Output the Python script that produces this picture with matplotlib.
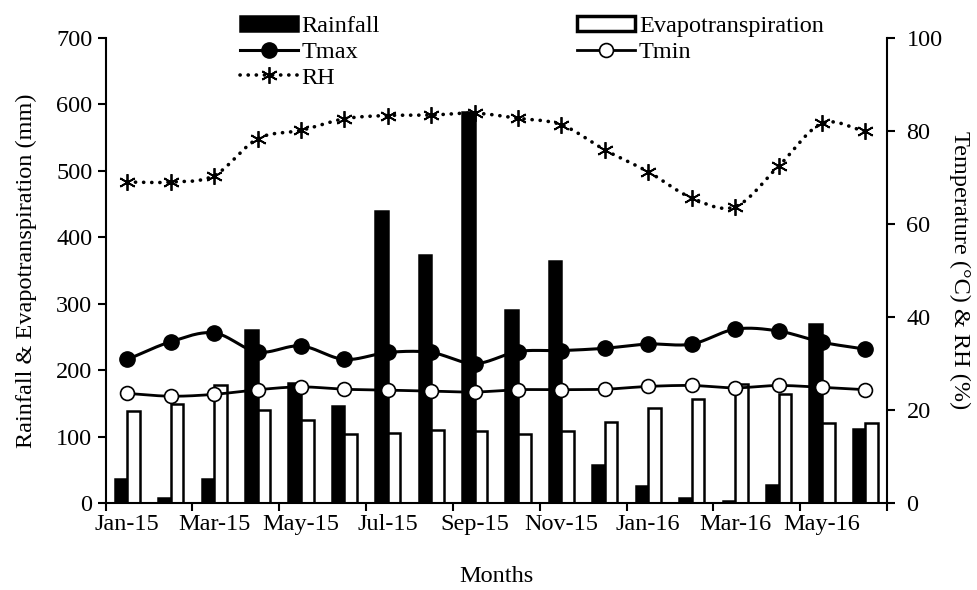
import numpy as np
import matplotlib.pyplot as plt
from matplotlib.lines import Line2D

plt.rcParams['font.family'] = ['Liberation Serif', 'DejaVu Serif']
plt.rcParams['font.size'] = 17.5

months = ['Jan-15', 'Feb-15', 'Mar-15', 'Apr-15', 'May-15', 'Jun-15',
          'Jul-15', 'Aug-15', 'Sep-15', 'Oct-15', 'Nov-15', 'Dec-15',
          'Jan-16', 'Feb-16', 'Mar-16', 'Apr-16', 'May-16', 'Jun-16']
rainfall = [36, 8, 37, 260, 181, 147, 439, 373, 589, 290, 364, 58,
            26, 8, 4, 27, 269, 111]
evapotranspiration = [138, 149, 178, 140, 125, 104, 106, 110, 109, 104, 108, 122,
                      144, 157, 179, 164, 120, 121]
tmax = [30.9, 34.7, 36.6, 32.5, 33.8, 30.9, 32.4, 32.4, 30.0, 32.6, 32.8, 33.3,
        34.2, 34.2, 37.4, 37.0, 34.6, 33.1]
tmin = [23.6, 23.0, 23.4, 24.4, 25.0, 24.5, 24.3, 24.1, 23.9, 24.4, 24.4, 24.5,
        25.1, 25.3, 24.8, 25.3, 24.9, 24.4]
rh = [69.0, 69.0, 70.4, 78.3, 80.1, 82.6, 83.3, 83.4, 83.8, 82.7, 81.3, 75.9,
      71.2, 65.6, 63.7, 72.4, 81.6, 79.9]


def smooth(x, y, n=24):
    # catmull-rom curve through the points (like a spreadsheet "smoothed line")
    x = np.asarray(x, float)
    y = np.asarray(y, float)
    px = np.concatenate([[2 * x[0] - x[1]], x, [2 * x[-1] - x[-2]]])
    py = np.concatenate([[2 * y[0] - y[1]], y, [2 * y[-1] - y[-2]]])
    t = np.linspace(0, 1, n, endpoint=False)
    xs, ys = [], []
    for i in range(1, len(px) - 2):
        for p, out in ((px, xs), (py, ys)):
            p0, p1, p2, p3 = p[i - 1], p[i], p[i + 1], p[i + 2]
            out.extend(0.5 * (2 * p1 + (-p0 + p2) * t
                              + (2 * p0 - 5 * p1 + 4 * p2 - p3) * t ** 2
                              + (-p0 + 3 * p1 - 3 * p2 + p3) * t ** 3))
    xs.append(x[-1])
    ys.append(y[-1])
    return np.array(xs), np.array(ys)


x = np.arange(len(months))
w = 0.29

fig = plt.figure(figsize=(9.78, 5.9), dpi=100)
ax = fig.add_axes([0.108, 0.147, 0.799, 0.789])
ax2 = ax.twinx()

ax.bar(x - w / 2, rainfall, w, color='black', edgecolor='black', linewidth=1.8,
       label='Rainfall')
ax.bar(x + w / 2, evapotranspiration, w, color='white', edgecolor='black',
       linewidth=1.8, label='Evapotranspiration')

sx, sy = smooth(x, tmax)
ax2.plot(sx, sy, color='black', lw=2.2)
ax2.plot(x, tmax, 'o', color='black', ms=11)

sx, sy = smooth(x, tmin)
ax2.plot(sx, sy, color='black', lw=2.0)
ax2.plot(x, tmin, 'o', mfc='white', mec='black', mew=1.2, ms=10)

sx, sy = smooth(x, rh)
ax2.plot(sx, sy, color='black', lw=2.6, ls=(0, (0.05, 2.2)),
         dash_capstyle='round')
ax2.plot(x, rh, ls='none', marker=(6, 2, 0), color='black', ms=12, mew=1.3)

ax.set_xlim(-0.5, len(months) - 0.5)
ax.set_ylim(0, 700)
ax.set_yticks(range(0, 701, 100))
ax2.set_ylim(0, 100)
ax2.set_yticks(range(0, 101, 20))

ax.set_xticks(np.arange(-0.5, len(months), 2))
ax.set_xticklabels([])
ax.set_xticks(x[::2], minor=True)
ax.set_xticklabels(months[::2], minor=True)
ax.tick_params(axis='x', which='minor', length=0, pad=8)
ax.tick_params(axis='x', which='major', length=6, width=1.5, direction='out')
ax.tick_params(axis='y', length=6, width=1.5, direction='out')
ax2.tick_params(axis='y', length=6, width=1.5, direction='out', pad=8)

for a in (ax, ax2):
    a.spines['top'].set_visible(False)
    for s in ('left', 'right', 'bottom'):
        a.spines[s].set_linewidth(1.5)
ax.spines['right'].set_visible(False)
ax2.spines['left'].set_visible(False)
ax2.spines['bottom'].set_visible(False)

ax.set_xlabel('Months', labelpad=22)
ax.set_ylabel('Rainfall & Evapotranspiration (mm)', labelpad=14)
ax2.set_ylabel('Temperature (°C) & RH (%)', rotation=270, labelpad=20)

h_rain = plt.Rectangle((0, 0), 1, 1, fc='black', ec='black', lw=1.8)
h_et = plt.Rectangle((0, 0), 1, 1, fc='white', ec='black', lw=2.5)
h_tmax = Line2D([], [], color='black', lw=2.2, marker='o', ms=11)
h_tmin = Line2D([], [], color='black', lw=2.0, marker='o', mfc='white',
                mec='black', mew=1.2, ms=10)
h_rh = Line2D([], [], color='black', lw=2.6, ls=(0, (0.05, 2.2)),
              dash_capstyle='round', marker=(6, 2, 0), ms=12, mew=1.3)

opts = dict(frameon=False, loc='upper left', bbox_transform=fig.transFigure,
            borderpad=0, borderaxespad=0, handlelength=2.4, handletextpad=0.15,
            labelspacing=0.18, numpoints=1, handleheight=0.6)
leg1 = fig.legend([h_rain, h_tmax, h_rh], ['Rainfall', 'Tmax', 'RH'],
                  bbox_to_anchor=(0.245, 0.973), **opts)
leg2 = fig.legend([h_et, h_tmin], ['Evapotranspiration', 'Tmin'],
                  bbox_to_anchor=(0.59, 0.973), **opts)

fig.savefig('out.png', dpi=100)
